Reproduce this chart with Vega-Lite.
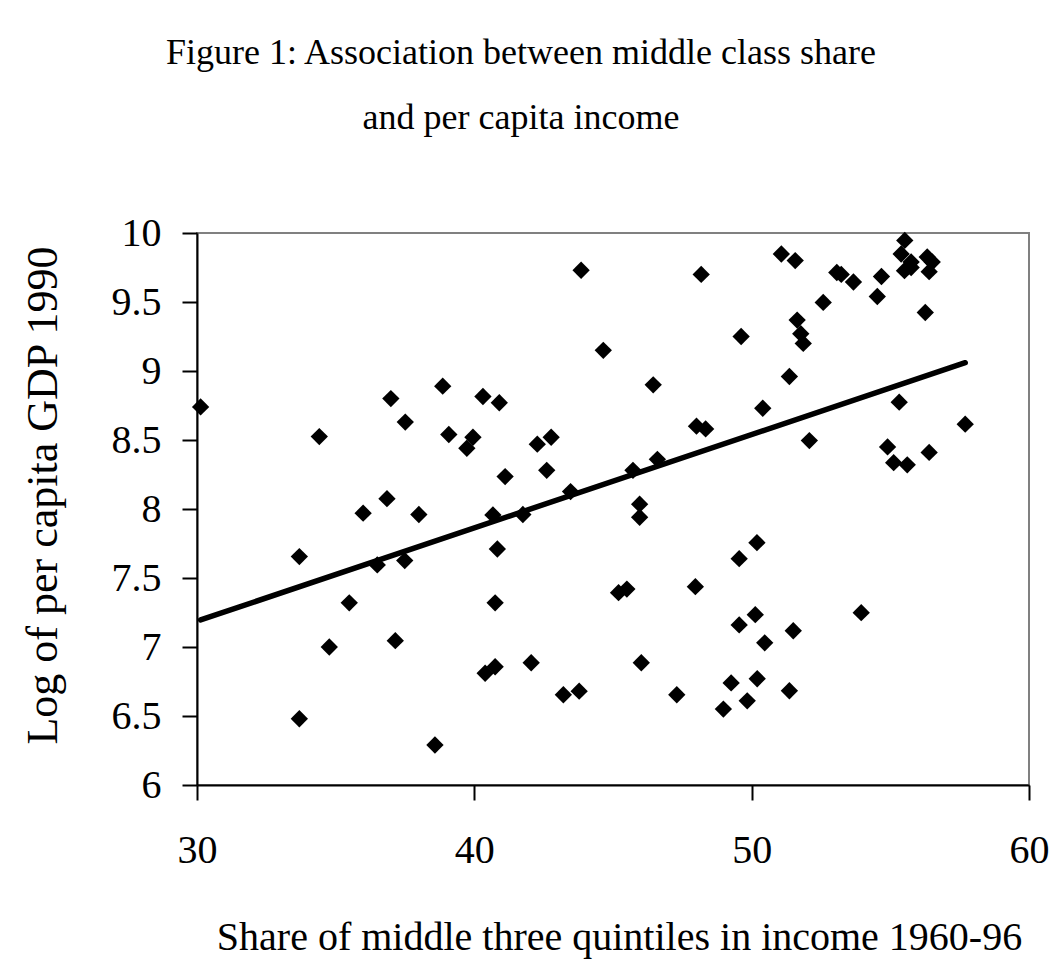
{
  "$schema": "https://vega.github.io/schema/vega-lite/v6.json",
  "width": 832,
  "height": 552,
  "autosize": "none",
  "padding": {"left": 197, "top": 233, "right": 32, "bottom": 191},
  "background": "white",
  "title": {
    "text": ["Figure 1: Association between middle class share", "and per capita income"],
    "font": "Liberation Serif",
    "fontSize": 36,
    "fontWeight": "normal",
    "color": "black",
    "lineHeight": 65,
    "anchor": "middle",
    "offset": 76,
    "dx": -92
  },
  "datasets": {
    "points": [
      {"share": 30.13, "gdp": 8.74}, {"share": 34.41, "gdp": 8.525}, {"share": 36.99, "gdp": 8.80},
      {"share": 37.51, "gdp": 8.63}, {"share": 38.86, "gdp": 8.89}, {"share": 39.08, "gdp": 8.54},
      {"share": 39.95, "gdp": 8.52}, {"share": 39.73, "gdp": 8.44}, {"share": 40.31, "gdp": 8.815},
      {"share": 40.90, "gdp": 8.77}, {"share": 36.85, "gdp": 8.075}, {"share": 35.99, "gdp": 7.97},
      {"share": 38.00, "gdp": 7.96}, {"share": 43.85, "gdp": 9.73}, {"share": 48.18, "gdp": 9.70},
      {"share": 49.62, "gdp": 9.25}, {"share": 44.65, "gdp": 9.15}, {"share": 46.45, "gdp": 8.90},
      {"share": 50.40, "gdp": 8.73}, {"share": 48.01, "gdp": 8.60}, {"share": 48.34, "gdp": 8.58},
      {"share": 42.27, "gdp": 8.47}, {"share": 42.77, "gdp": 8.52}, {"share": 41.11, "gdp": 8.235},
      {"share": 42.61, "gdp": 8.28}, {"share": 45.96, "gdp": 8.035}, {"share": 45.96, "gdp": 7.94},
      {"share": 43.47, "gdp": 8.126}, {"share": 45.72, "gdp": 8.28}, {"share": 46.60, "gdp": 8.36},
      {"share": 40.67, "gdp": 7.957}, {"share": 41.75, "gdp": 7.96}, {"share": 33.69, "gdp": 7.655},
      {"share": 36.50, "gdp": 7.595}, {"share": 37.49, "gdp": 7.626}, {"share": 35.49, "gdp": 7.32},
      {"share": 34.77, "gdp": 7.00}, {"share": 37.15, "gdp": 7.046}, {"share": 33.69, "gdp": 6.48},
      {"share": 38.58, "gdp": 6.29}, {"share": 40.83, "gdp": 7.71}, {"share": 40.75, "gdp": 7.32},
      {"share": 40.39, "gdp": 6.81}, {"share": 40.75, "gdp": 6.857}, {"share": 42.05, "gdp": 6.886},
      {"share": 43.21, "gdp": 6.654}, {"share": 43.78, "gdp": 6.68}, {"share": 45.20, "gdp": 7.394},
      {"share": 45.50, "gdp": 7.42}, {"share": 46.02, "gdp": 6.886}, {"share": 47.30, "gdp": 6.654},
      {"share": 47.97, "gdp": 7.437}, {"share": 49.55, "gdp": 7.64}, {"share": 50.19, "gdp": 7.756},
      {"share": 49.55, "gdp": 7.16}, {"share": 50.13, "gdp": 7.234}, {"share": 50.47, "gdp": 7.03},
      {"share": 49.26, "gdp": 6.74}, {"share": 50.20, "gdp": 6.77}, {"share": 49.84, "gdp": 6.61},
      {"share": 48.98, "gdp": 6.55}, {"share": 53.95, "gdp": 7.249}, {"share": 51.50, "gdp": 7.118},
      {"share": 51.36, "gdp": 6.683}, {"share": 55.52, "gdp": 9.946}, {"share": 51.07, "gdp": 9.848},
      {"share": 51.57, "gdp": 9.80}, {"share": 55.39, "gdp": 9.848}, {"share": 55.75, "gdp": 9.79},
      {"share": 55.51, "gdp": 9.727}, {"share": 55.75, "gdp": 9.75}, {"share": 56.33, "gdp": 9.826},
      {"share": 56.51, "gdp": 9.79}, {"share": 56.40, "gdp": 9.72}, {"share": 53.07, "gdp": 9.714},
      {"share": 53.23, "gdp": 9.70}, {"share": 53.67, "gdp": 9.645}, {"share": 54.68, "gdp": 9.685},
      {"share": 54.53, "gdp": 9.54}, {"share": 52.58, "gdp": 9.497}, {"share": 56.26, "gdp": 9.424},
      {"share": 51.64, "gdp": 9.369}, {"share": 51.77, "gdp": 9.27}, {"share": 51.86, "gdp": 9.20},
      {"share": 51.36, "gdp": 8.96}, {"share": 52.08, "gdp": 8.496}, {"share": 55.32, "gdp": 8.774},
      {"share": 57.70, "gdp": 8.615}, {"share": 54.90, "gdp": 8.45}, {"share": 55.12, "gdp": 8.336},
      {"share": 55.61, "gdp": 8.32}, {"share": 56.40, "gdp": 8.41}
    ],
    "fit": [
      {"share": 30.13, "gdp": 7.196},
      {"share": 57.70, "gdp": 9.06}
    ]
  },
  "layer": [
    {
      "data": {"name": "points"},
      "mark": {"type": "point", "shape": "diamond", "filled": true, "color": "black", "opacity": 1, "size": 300, "strokeWidth": 0},
      "encoding": {
        "x": {"field": "share", "type": "quantitative"},
        "y": {"field": "gdp", "type": "quantitative"}
      }
    },
    {
      "data": {"name": "fit"},
      "mark": {"type": "line", "color": "black", "strokeWidth": 5.5, "strokeCap": "round"},
      "encoding": {
        "x": {"field": "share", "type": "quantitative",
          "scale": {"domain": [30, 60], "nice": false, "zero": false},
          "axis": {
            "values": [30, 40, 50, 60],
            "grid": false,
            "labelFlush": false,
            "title": "Share of middle three quintiles in income 1960-96",
            "titlePadding": 47,
            "titleX": 422
          }
        },
        "y": {"field": "gdp", "type": "quantitative",
          "scale": {"domain": [6, 10], "nice": false, "zero": false},
          "axis": {
            "values": [6, 6.5, 7, 7.5, 8, 8.5, 9, 9.5, 10],
            "format": "~g",
            "grid": false,
            "labelFlush": false,
            "title": "Log of per capita GDP 1990",
            "titleFontSize": 44,
            "labelPadding": 21,
            "titlePadding": 46,
            "titleY": 262
          }
        }
      }
    }
  ],
  "config": {
    "view": {"stroke": "#808080", "strokeWidth": 2},
    "axis": {
      "domainColor": "black",
      "domainWidth": 2,
      "tickColor": "black",
      "tickWidth": 2,
      "tickSize": 15,
      "labelFont": "Liberation Serif",
      "labelFontSize": 40,
      "labelColor": "black",
      "labelPadding": 30,
      "titleFont": "Liberation Serif",
      "titleFontSize": 40,
      "titleFontWeight": "normal",
      "titleColor": "black"
    }
  }
}
